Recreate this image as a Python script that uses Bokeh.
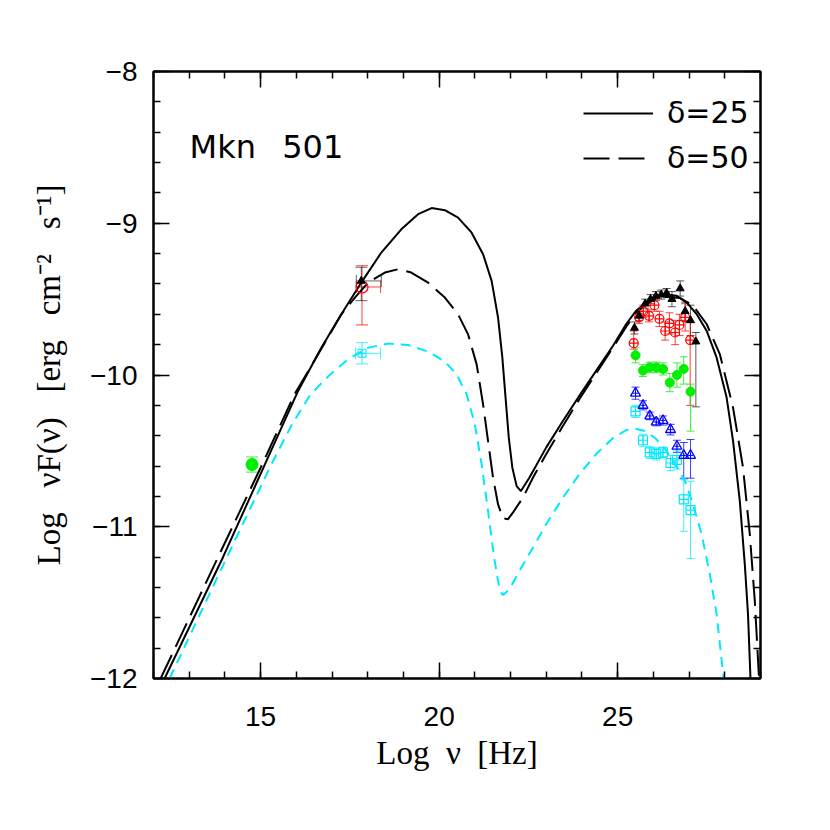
from bokeh.plotting import figure
from bokeh.models import (ColumnDataSource, Whisker, TeeHead, LinearAxis, SingleIntervalTicker,
                          CustomJSTickFormatter, Legend, LegendItem, Label)
from bokeh.embed import file_html
from bokeh.resources import INLINE

# ---------------- model curves ----------------
d25_x = [12.31, 13.94, 15.12, 16.05, 16.70, 17.26, 17.82, 18.38, 18.94, 19.41, 19.79, 20.16, 20.53,
         20.91, 21.23, 21.47, 21.65, 21.77, 21.86, 21.95, 22.05, 22.17, 22.29, 22.53, 23.00, 23.47,
         23.93, 24.40, 24.87, 25.24, 25.52, 25.80, 26.08, 26.36, 26.64, 26.93, 27.21, 27.49, 27.77,
         28.05, 28.23, 28.42, 28.56, 28.65, 28.72]
d25_y = [-12.0, -11.204, -10.589, -10.105, -9.82, -9.60, -9.391, -9.193, -9.04, -8.94, -8.90, -8.914,
         -8.963, -9.062, -9.204, -9.38, -9.622, -9.886, -10.149, -10.413, -10.611, -10.732, -10.765,
         -10.675, -10.477, -10.301, -10.136, -9.971, -9.807, -9.664, -9.576, -9.521, -9.488, -9.470,
         -9.477, -9.521, -9.598, -9.708, -9.884, -10.147, -10.433, -10.829, -11.246, -11.576, -12.004]

d50_x = [12.20, 13.80, 15.00, 15.95, 16.61, 17.26, 17.64, 18.01, 18.48, 18.85, 19.22, 19.69, 20.16,
         20.53, 20.81, 21.05, 21.23, 21.37, 21.51, 21.65, 21.79, 21.93, 22.07, 22.35, 22.63, 23.00,
         23.47, 23.93, 24.40, 24.87, 25.24, 25.52, 25.80, 26.08, 26.36, 26.74, 27.11, 27.49, 27.86,
         28.23, 28.51, 28.70, 28.84, 28.96]
d50_y = [-12.0, -11.204, -10.611, -10.127, -9.864, -9.60, -9.49, -9.391, -9.325, -9.303, -9.325,
         -9.391, -9.49, -9.60, -9.732, -9.93, -10.193, -10.435, -10.677, -10.853, -10.945, -10.95,
         -10.905, -10.807, -10.675, -10.521, -10.334, -10.158, -9.989, -9.818, -9.681, -9.591, -9.532,
         -9.499, -9.484, -9.492, -9.543, -9.664, -9.862, -10.213, -10.609, -11.048, -11.488, -12.004]

cy_x = [12.45, 14.05, 15.30, 15.88, 16.40, 16.95, 17.45, 18.01, 18.57, 19.13, 19.69, 20.16, 20.49,
        20.77, 21.00, 21.19, 21.37, 21.54, 21.70, 21.79, 21.97, 22.25, 22.63, 23.00, 23.47, 23.93,
        24.40, 24.87, 25.24, 25.52, 25.80, 26.08, 26.36, 26.64, 26.88, 27.11, 27.35, 27.58, 27.77, 27.97]
cy_y = [-12.0, -11.204, -10.589, -10.325, -10.127, -9.996, -9.897, -9.82, -9.793, -9.802, -9.846,
        -9.912, -9.996, -10.127, -10.325, -10.589, -10.897, -11.204, -11.424, -11.45, -11.411, -11.29,
        -11.136, -10.982, -10.807, -10.653, -10.521, -10.415, -10.363, -10.356, -10.371, -10.422,
        -10.499, -10.598, -10.697, -10.851, -11.048, -11.312, -11.576, -12.004]

# ---------------- TeV data ----------------
bt_x = [25.47, 25.60, 25.77, 25.92, 26.07, 26.22, 26.37, 26.52, 26.75, 26.89, 27.04, 27.19]
bt_y = [-9.69, -9.61, -9.53, -9.50, -9.48, -9.47, -9.46, -9.50, -9.43, -9.58, -9.64, -9.78]
bt_eu = [0.04, 0.03, 0.03, 0.03, 0.03, 0.03, 0.03, 0.05, 0.05, 0.06, 0.10, 0.06]
bt_ed = [0.04, 0.03, 0.03, 0.03, 0.03, 0.03, 0.03, 0.05, 0.05, 0.06, 0.10, 0.43]

rc_x = [25.45, 25.60, 25.72, 25.88, 26.03, 26.17, 26.33, 26.45, 26.61, 26.73, 26.89, 27.03]
rc_y = [-9.79, -9.62, -9.58, -9.61, -9.54, -9.63, -9.71, -9.66, -9.72, -9.67, -9.62, -9.77]
rc_eu = [0.08, 0.04, 0.04, 0.04, 0.04, 0.05, 0.06, 0.07, 0.08, 0.07, 0.09, 0.12]
rc_ed = [0.04, 0.04, 0.04, 0.04, 0.04, 0.05, 0.06, 0.07, 0.08, 0.07, 0.09, 0.43]

gc_x = [25.50, 25.71, 25.90, 26.08, 26.27, 26.46, 26.66, 26.85, 27.04]
gc_y = [-9.87, -9.97, -9.95, -9.95, -9.96, -10.05, -10.00, -9.96, -10.11]
gc_eu = [0.05, 0.04, 0.035, 0.035, 0.04, 0.06, 0.08, 0.08, 0.05]
gc_ed = [0.05, 0.04, 0.035, 0.035, 0.04, 0.06, 0.08, 0.10, 0.26]

bl_x = [25.50, 25.71, 25.90, 26.08, 26.27, 26.48, 26.66, 26.85, 27.04]
bl_y = [-10.12, -10.20, -10.27, -10.31, -10.30, -10.36, -10.47, -10.53, -10.53]
bl_eu = [0.04, 0.03, 0.025, 0.025, 0.03, 0.035, 0.04, 0.085, 0.105]
bl_ed = [0.04, 0.03, 0.025, 0.025, 0.03, 0.035, 0.04, 0.15, 0.15]

cs_x = [25.50, 25.71, 25.90, 26.08, 26.27, 26.48, 26.66, 26.85, 27.04]
cs_y = [-10.24, -10.43, -10.51, -10.52, -10.51, -10.58, -10.56, -10.82, -10.89]
cs_eu = [0.04, 0.04, 0.04, 0.04, 0.035, 0.05, 0.06, 0.13, 0.19]
cs_ed = [0.04, 0.04, 0.04, 0.04, 0.035, 0.05, 0.06, 0.21, 0.32]

# ---------------- optical / X-ray data ----------------
opt_x = [14.76]; opt_y = [-10.59]; opt_e = [0.05]
xr_r_x = [17.84]; xr_r_y = [-9.42]; xr_r_eu = [0.14]; xr_r_ed = [0.25]; xr_r_lo = [17.68]; xr_r_hi = [18.36]
xr_k_x = [17.82]; xr_k_y = [-9.38]; xr_k_eu = [0.09]; xr_k_ed = [0.13]; xr_k_lo = [17.68]; xr_k_hi = [18.38]
xr_c_x = [17.84]; xr_c_y = [-9.857]; xr_c_eu = [0.07]; xr_c_ed = [0.07]; xr_c_lo = [17.66]; xr_c_hi = [18.36]

labels_font = "Liberation Serif"
tick_font = "Liberation Sans"
EN = "\u2002"

p = figure(frame_width=607, frame_height=607, x_range=(12, 29), y_range=(-12, -8),
           output_backend="svg", toolbar_location=None,
           min_border_left=153, min_border_top=71, min_border_right=30, min_border_bottom=90)
p.grid.visible = False
p.outline_line_color = "black"
p.outline_line_width = 2
p.background_fill_color = "white"


def style_axis(ax, label_size):
    ax.axis_line_width = 2
    ax.major_tick_in = 16
    ax.major_tick_out = 0
    ax.minor_tick_in = 7
    ax.minor_tick_out = 0
    ax.major_tick_line_width = 1.5
    ax.minor_tick_line_width = 1.5
    ax.major_label_text_font = tick_font
    ax.major_label_text_font_size = label_size
    ax.major_label_text_color = "black"
    ax.axis_label_text_font = labels_font
    ax.axis_label_text_font_size = "33px"
    ax.axis_label_text_font_style = "normal"
    ax.axis_label_text_color = "black"


xa = p.below[0]
xa.ticker = SingleIntervalTicker(interval=5, num_minor_ticks=5)
style_axis(xa, "28px")
xa.major_label_standoff = 28
xa.axis_label = "Log" + EN + "ν" + EN + "[Hz]"
xa.axis_label_standoff = 6

ya = p.left[0]
ya.ticker = SingleIntervalTicker(interval=1, num_minor_ticks=5)
ya.formatter = CustomJSTickFormatter(code="return tick < 0 ? '\\u2212' + Math.abs(tick).toFixed(0) : tick.toFixed(0);")
style_axis(ya, "28px")
ya.major_label_standoff = 16
ya.axis_label = ("Log" + EN + " νF(ν)" + EN + " [erg" + EN + " cm⁻²" + EN + " s⁻¹]")
ya.axis_label_standoff = 20

empty = CustomJSTickFormatter(code="return '';")
top = LinearAxis(ticker=SingleIntervalTicker(interval=5, num_minor_ticks=5), formatter=empty)
style_axis(top, "1px")
top.major_label_standoff = 0
p.add_layout(top, "above")
right = LinearAxis(ticker=SingleIntervalTicker(interval=1, num_minor_ticks=5), formatter=empty)
style_axis(right, "1px")
right.major_label_standoff = 0
p.add_layout(right, "right")

# curves
r25 = p.line(d25_x, d25_y, line_color="black", line_width=2)
r50 = p.line(d50_x, d50_y, line_color="black", line_width=2, line_dash="26 9")
p.line(cy_x, cy_y, line_color="#00e8ff", line_width=2, line_dash="10 7")


def add_err(xs, ys, eu, ed, color, size, alpha=0.75):
    src = ColumnDataSource(dict(x=xs, lo=[y - d for y, d in zip(ys, ed)], hi=[y + u for y, u in zip(ys, eu)]))
    w = Whisker(source=src, base="x", lower="lo", upper="hi", dimension="height",
                line_color=color, line_alpha=alpha, line_width=1,
                upper_head=TeeHead(size=size, line_color=color, line_alpha=alpha, line_width=1),
                lower_head=TeeHead(size=size, line_color=color, line_alpha=alpha, line_width=1))
    p.add_layout(w)


def add_xerr(ys, lo, hi, color, size, alpha=0.75):
    src = ColumnDataSource(dict(y=ys, lo=lo, hi=hi))
    w = Whisker(source=src, base="y", lower="lo", upper="hi", dimension="width",
                line_color=color, line_alpha=alpha, line_width=1,
                upper_head=TeeHead(size=size, line_color=color, line_alpha=alpha, line_width=1),
                lower_head=TeeHead(size=size, line_color=color, line_alpha=alpha, line_width=1))
    p.add_layout(w)


# error bars
add_err(bt_x, bt_y, bt_eu, bt_ed, "black", 8, 0.65)
add_err(rc_x, rc_y, rc_eu, rc_ed, "red", 8)
add_err(gc_x, gc_y, gc_eu, gc_ed, "#00ee00", 8)
add_err(bl_x, bl_y, bl_eu, bl_ed, "blue", 8)
add_err(cs_x, cs_y, cs_eu, cs_ed, "#00e8ff", 8)
add_err(opt_x, opt_y, opt_e, opt_e, "#00ee00", 12)
add_err(xr_r_x, xr_r_y, xr_r_eu, xr_r_ed, "red", 12)
add_err(xr_k_x, xr_k_y, xr_k_eu, xr_k_ed, "black", 12, 0.6)
add_err(xr_c_x, xr_c_y, xr_c_eu, xr_c_ed, "#00e8ff", 12)
add_xerr(xr_r_y, xr_r_lo, xr_r_hi, "red", 12)
add_xerr(xr_k_y, xr_k_lo, xr_k_hi, "black", 12, 0.6)
add_xerr(xr_c_y, xr_c_lo, xr_c_hi, "#00e8ff", 12)

# markers
p.scatter(cs_x, cs_y, marker="square_cross", size=9, fill_color=None, line_color="#00e8ff", line_width=1.2)
p.scatter(bl_x, bl_y, marker="triangle", size=10, fill_color=None, line_color="blue", line_width=1.3)
p.scatter(bl_x, bl_y, marker="cross", size=5, line_color="blue", line_width=1)
p.scatter(gc_x, gc_y, marker="circle", size=9, fill_color="#00ee00", line_color="#00ee00")
p.scatter(rc_x, rc_y, marker="circle_cross", size=9, fill_color=None, line_color="red", line_width=1.2)
p.scatter(bt_x, bt_y, marker="triangle", size=8, fill_color="black", line_color="black")

p.scatter(opt_x, opt_y, marker="circle", size=12, fill_color="#00ee00", line_color="#00ee00")
p.scatter(xr_c_x, xr_c_y, marker="square_cross", size=8, fill_color=None, line_color="#00e8ff", line_width=1)
p.scatter(xr_r_x, xr_r_y, marker="circle", size=12, fill_color=None, line_color="red", line_width=1.2)
p.scatter(xr_k_x, xr_k_y, marker="triangle", size=8, fill_color="black", line_color="black")

# legend
legend = Legend(items=[LegendItem(label="δ=25", renderers=[r25]),
                       LegendItem(label="δ=50", renderers=[r50])],
                location=(430, 503), glyph_width=70, glyph_height=28, label_height=28,
                label_standoff=14, spacing=10, padding=0, margin=0,
                border_line_color=None, background_fill_alpha=0,
                label_text_font="DejaVu Sans", label_text_font_size="30px",
                label_text_color="black")
p.add_layout(legend)

p.add_layout(Label(x=13.01, y=-8.50, text="Mkn" + EN + " 501", text_font="DejaVu Sans",
                   text_font_size="32px", text_baseline="alphabetic", text_color="black"))

open("out.html", "w").write(file_html(p, INLINE))
